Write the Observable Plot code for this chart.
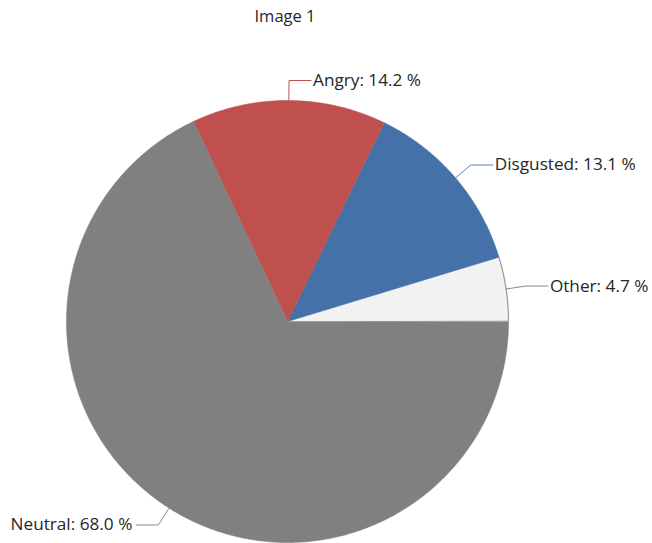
<!DOCTYPE html>
<html><head><meta charset="utf-8">
<script src="https://cdn.jsdelivr.net/npm/d3@7"></script>
<script src="https://cdn.jsdelivr.net/npm/@observablehq/plot@0.6"></script>
<style>
body{margin:0;background:#fff;font-family:"Open Sans",sans-serif;}
#title{width:570px;height:32px;line-height:32px;text-align:center;font-size:16.5px;color:#262626;}
</style></head><body>
<div id="title">Image 1</div>
<div id="chart"></div>
<script>
const categories = ["Other", "Disgusted", "Angry", "Neutral"];
const values = [4.7, 13.1, 14.2, 68.0];
const fillColors = ["#F2F2F2", "#4471A7", "#C0504D", "#808080"];
const leaderColors = ["#8a8a8a", "#5b82b4", "#C0504D", "#8a8a8a"];

const W = 652, H = 511, R = 221, CX = 287, CY = 289;
const total = d3.sum(values);
const ends = Array.from(d3.cumsum(values));
const slices = categories.map((c, i) => {
  const a0 = 2 * Math.PI * (ends[i] - values[i]) / total;
  const a1 = 2 * Math.PI * ends[i] / total;
  return {cat: c, value: values[i], a0, a1, mid: (a0 + a1) / 2, fill: fillColors[i], lc: leaderColors[i]};
});

function arcPts(s, withCenter) {
  const n = Math.max(2, Math.ceil((s.a1 - s.a0) / (Math.PI / 360)));
  const pts = withCenter ? [{x: 0, y: 0}] : [];
  for (let k = 0; k <= n; k++) {
    const a = s.a0 + (s.a1 - s.a0) * k / n;
    pts.push({x: Math.cos(a), y: Math.sin(a)});
  }
  return pts;
}

const leaders = [];
const labels = [];
slices.forEach(s => {
  const c = Math.cos(s.mid), sn = Math.sin(s.mid);
  const side = c >= 0 ? 1 : -1;
  const e = 1 + 20 / R;
  const p0 = {x: c, y: sn, cat: s.cat};
  const p1 = {x: c * e, y: sn * e, cat: s.cat};
  const p2 = {x: c * e + side * 22 / R, y: sn * e, cat: s.cat};
  leaders.push({pts: [p0, p1, p2], color: s.lc});
  labels.push({x: p2.x, y: p2.y, side, text: `${s.cat}: ${s.value.toFixed(1)} %`});
});

const marks = [];
slices.forEach(s => {
  marks.push(Plot.line(arcPts(s, true), {x: "x", y: "y", fill: s.fill, stroke: s.fill, strokeWidth: 0.6, curve: "linear-closed"}));
});
// outline of the light "Other" slice edge
marks.push(Plot.line(arcPts(slices[0], false), {x: "x", y: "y", stroke: "#9a9a9a", strokeWidth: 1.2}));
leaders.forEach(l => {
  marks.push(Plot.line(l.pts, {x: "x", y: "y", stroke: l.color, strokeWidth: 1}));
});
const textOpts = {x: "x", y: "y", text: "text", fontSize: 17.2, fill: "#262626", fontFamily: "Open Sans"};
marks.push(Plot.text(labels.filter(d => d.side > 0), {...textOpts, textAnchor: "start", dx: 2}));
marks.push(Plot.text(labels.filter(d => d.side < 0), {...textOpts, textAnchor: "end", dx: -4}));

const chart = Plot.plot({
  width: W, height: H,
  margin: 0,
  x: {domain: [-CX / R, (W - CX) / R], range: [0, W], axis: null},
  y: {domain: [-(H - CY) / R, CY / R], range: [H, 0], axis: null},
  style: {background: "#fff", fontFamily: "Open Sans"},
  marks
});
document.getElementById("chart").appendChild(chart);
</script>
</body></html>
